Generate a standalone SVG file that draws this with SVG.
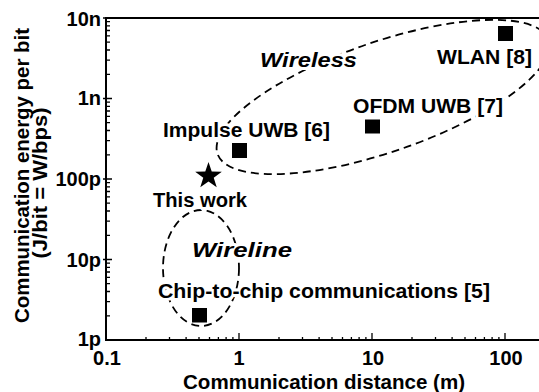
<svg xmlns="http://www.w3.org/2000/svg" width="539" height="392" viewBox="0 0 539 392">
<style>
  text { font-family: "Liberation Sans", Arial, Helvetica, sans-serif; font-weight: bold; fill: #000; }
  .tick { font-size: 20px; }
  .lab { font-size: 20px; stroke: #fff; stroke-width: 6px; stroke-linejoin: round; paint-order: stroke; }
  .it { font-style: italic; font-size: 21px; }
  .axis { stroke: #000; stroke-width: 2; fill: none; }
  .tk { stroke: #000; stroke-width: 1.3; fill: none; }
  .region { stroke: #000; stroke-width: 1.8; fill: none; stroke-dasharray: 8 5; }
  .pt { fill: #000; }
</style>
<rect width="539" height="392" fill="#fff"/>
<g id="regions">
  <ellipse id="wireless-region" class="region" cx="383" cy="97" rx="175" ry="55" transform="rotate(-19 383 97)"/>
  <ellipse id="wireline-region" class="region" cx="201" cy="268" rx="38" ry="58"/>
</g>
<g id="axes">
  <path class="axis" d="M539 18H106V340H539"/>
  <path class="tk" d="M103 18h9M103 98.5h9M103 179h9M103 259.5h9
    M106 315.8h4M106 301.6h4M106 291.5h4M106 283.7h4M106 277.4h4M106 272h4M106 267.3h4M106 263.2h4
    M106 235.3h4M106 221.1h4M106 211h4M106 203.2h4M106 196.9h4M106 191.5h4M106 186.8h4M106 182.7h4
    M106 154.8h4M106 140.6h4M106 130.5h4M106 122.7h4M106 116.4h4M106 111h4M106 106.3h4M106 102.2h4
    M106 74.3h4M106 60.1h4M106 50h4M106 42.2h4M106 35.9h4M106 30.5h4M106 25.8h4M106 21.7h4"/>
  <path class="tk" d="M239 340v-7M372 340v-7M505 340v-7
    M146 340v-3M169.5 340v-3M186.1 340v-3M199 340v-3M209.5 340v-3M218.4 340v-3M226.1 340v-3M232.9 340v-3
    M279 340v-3M302.5 340v-3M319.1 340v-3M332 340v-3M342.5 340v-3M351.4 340v-3M359.1 340v-3M365.9 340v-3
    M412 340v-3M435.5 340v-3M452.1 340v-3M465 340v-3M475.5 340v-3M484.4 340v-3M492.1 340v-3M498.9 340v-3"/>
  <g id="y-ticklabels" class="tick" text-anchor="end">
    <text class="tick" x="101" y="26">10n</text>
    <text class="tick" x="101" y="105">1n</text>
    <text class="tick" x="101" y="186">100p</text>
    <text class="tick" x="101" y="267">10p</text>
    <text class="tick" x="101" y="346">1p</text>
  </g>
  <g id="x-ticklabels" text-anchor="middle">
    <text class="tick" x="107" y="365">0.1</text>
    <text class="tick" x="239" y="365">1</text>
    <text class="tick" x="373" y="365">10</text>
    <text class="tick" x="506" y="365">100</text>
  </g>
  <text id="x-title" class="tick" x="183" y="389" textLength="282" lengthAdjust="spacingAndGlyphs">Communication distance (m)</text>
  <g id="y-title">
    <text class="tick" transform="translate(29 175.5) rotate(-90)" x="-147.5" y="0" textLength="295" lengthAdjust="spacingAndGlyphs">Communication energy per bit</text>
    <text class="tick" transform="translate(47 183) rotate(-90)" x="-75.5" y="0" textLength="151" lengthAdjust="spacingAndGlyphs">(J/bit = W/bps)</text>
  </g>
</g>
<g id="points">
  <g id="impulse-uwb"><rect class="pt" x="232" y="143" width="15" height="15"/></g>
  <g id="ofdm-uwb"><rect class="pt" x="365" y="119.5" width="15" height="14"/></g>
  <g id="wlan"><rect class="pt" x="498" y="26" width="15" height="15"/></g>
  <g id="chip-to-chip"><rect class="pt" x="192" y="308" width="15" height="14.5"/></g>
  <g id="this-work"><polygon class="pt" points="208.5,162 211.73,171.55 221.82,171.67 213.73,177.7 216.73,187.33 208.5,181.5 200.27,187.33 203.27,177.7 195.18,171.67 205.27,171.55"/></g>
</g>
<g id="labels">
  <text class="lab" x="163" y="137" textLength="167" lengthAdjust="spacingAndGlyphs">Impulse UWB [6]</text>
  <text class="lab" x="353" y="113" textLength="150" lengthAdjust="spacingAndGlyphs">OFDM UWB [7]</text>
  <text class="lab" x="437" y="64" textLength="95" lengthAdjust="spacingAndGlyphs">WLAN [8]</text>
  <text class="lab" x="153" y="207" textLength="94" lengthAdjust="spacingAndGlyphs">This work</text>
  <text class="lab it" x="260" y="67" textLength="97" lengthAdjust="spacingAndGlyphs">Wireless</text>
  <text class="lab it" x="192" y="257" textLength="100" lengthAdjust="spacingAndGlyphs">Wireline</text>
  <text class="lab" x="158" y="298" textLength="332" lengthAdjust="spacingAndGlyphs">Chip-to-chip communications [5]</text>
</g>
</svg>
